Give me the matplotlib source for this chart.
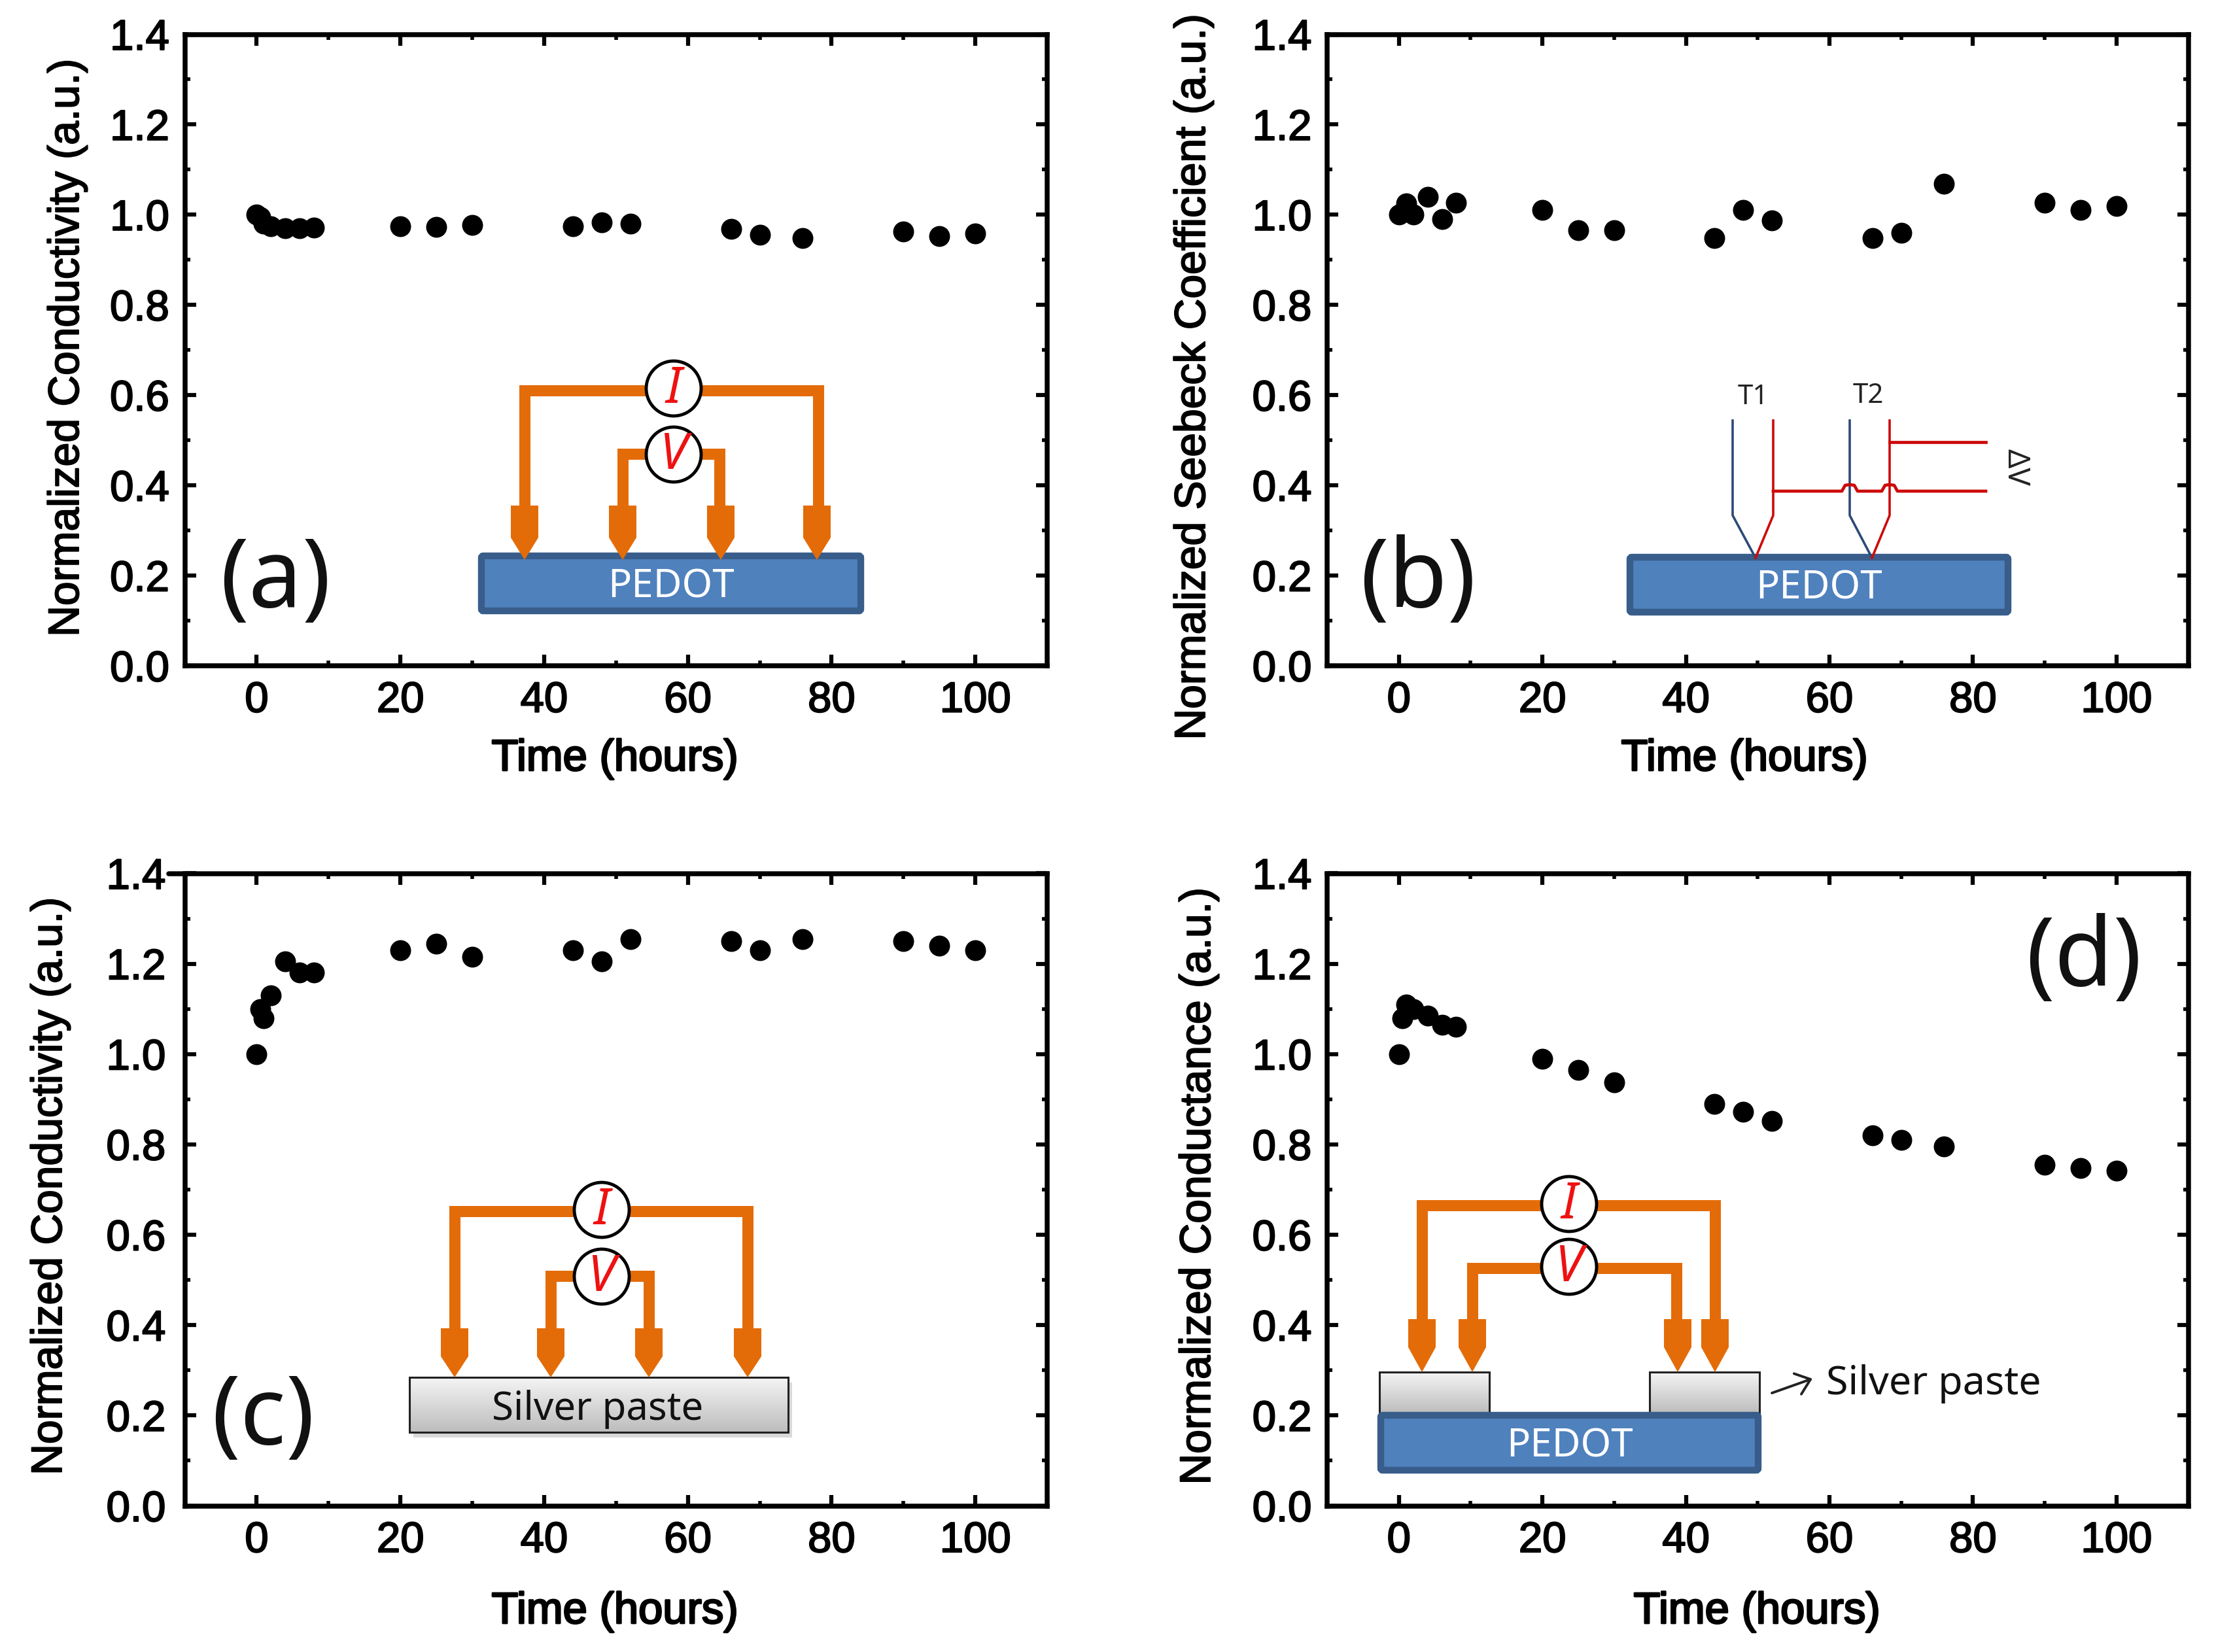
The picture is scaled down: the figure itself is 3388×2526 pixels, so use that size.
import numpy as np
import matplotlib
matplotlib.use("Agg")
import matplotlib.pyplot as plt
from matplotlib.patches import Circle, Rectangle, Polygon, FancyBboxPatch
from matplotlib.ticker import MultipleLocator, FormatStrFormatter
import matplotlib.patheffects as pe

# ------- data -------
time_hours = [0, 0.5, 1, 2, 4, 6, 8, 20, 25, 30, 44, 48, 52, 66, 70, 76, 90, 95, 100]
cond_a = [1.00, 0.995, 0.98, 0.975, 0.97, 0.97, 0.972, 0.975, 0.973, 0.977,
          0.975, 0.983, 0.98, 0.968, 0.955, 0.948, 0.963, 0.952, 0.958]
seebeck_b = [1.00, 1.005, 1.025, 1.00, 1.04, 0.99, 1.027, 1.01, 0.965, 0.965,
             0.948, 1.01, 0.988, 0.948, 0.96, 1.068, 1.027, 1.01, 1.02]
cond_c = [1.00, 1.10, 1.08, 1.13, 1.205, 1.18, 1.18, 1.23, 1.245, 1.215,
          1.23, 1.205, 1.255, 1.25, 1.23, 1.255, 1.25, 1.24, 1.23]
conductance_d = [1.00, 1.08, 1.11, 1.10, 1.085, 1.065, 1.06, 0.99, 0.965, 0.938,
                 0.89, 0.873, 0.852, 0.82, 0.81, 0.795, 0.755, 0.748, 0.742]
ylabels = ["Normalized Conductivity (a.u.)", "Normalized Seebeck Coefficient (a.u.)",
           "Normalized Conductivity (a.u.)", "Normalized Conductance (a.u.)"]
xlabel = "Time (hours)"
panel_tags = ["(a)", "(b)", "(c)", "(d)"]

W, H = 3388, 2526
SANS = "Liberation Sans"
DIAG = "Noto Sans"
ORANGE = "#e36c09"
RED_W = "#cc0a0a"
BLUE_W = "#2c4a78"
fig = plt.figure(figsize=(W / 100, H / 100), dpi=100, facecolor="white")


def fs(px):
    return px * 0.72


def thick(w):
    return [pe.withStroke(linewidth=w, foreground="black")]


boxes = [(282.5, 1601, 52.5, 1018), (2029, 3345.5, 52.5, 1018),
         (282.5, 1601, 1335.5, 2302.5), (2029, 3345.5, 1335.5, 2302.5)]
series = [cond_a, seebeck_b, cond_c, conductance_d]
ytick_pads = [17, 17, 21, 17]
ylab_pos = [(103, 532), (1825, 577), (77, 1814), (1833, 1814)]
xlab_pos = [(940, 1161), (2667, 1161), (940, 2465), (2686, 2465)]

for (l, r, t, b), vals, pad in zip(boxes, series, ytick_pads):
    ax = fig.add_axes([l / W, 1 - b / H, (r - l) / W, (b - t) / H])
    ax.plot(time_hours, vals, ls="none", marker="o", ms=23, color="black", mew=0)
    ax.set_xlim(-10, 110)
    ax.set_ylim(0, 1.4)
    ax.xaxis.set_major_locator(MultipleLocator(20))
    ax.xaxis.set_minor_locator(MultipleLocator(10))
    ax.yaxis.set_major_locator(MultipleLocator(0.2))
    ax.yaxis.set_minor_locator(MultipleLocator(0.1))
    ax.yaxis.set_major_formatter(FormatStrFormatter("%.1f"))
    ax.tick_params(which="major", direction="in", length=12, width=4.5,
                   top=True, right=True, pad=17)
    ax.tick_params(axis="y", which="major", pad=pad)
    ax.tick_params(which="minor", direction="in", length=6, width=4,
                   top=True, right=True)
    for s in ax.spines.values():
        s.set_linewidth(5.4)
    for lab in ax.get_xticklabels() + ax.get_yticklabels():
        lab.set_fontfamily(SANS)
        lab.set_fontsize(47)
        lab.set_path_effects(thick(1.5))

for text, (x, y) in zip(ylabels, ylab_pos):
    fig.text(x / W, 1 - y / H, text, rotation=90, ha="center", va="center",
             family=SANS, fontsize=fs(66), path_effects=thick(1.4))
for (x, y) in xlab_pos:
    fig.text(x / W, 1 - y / H, xlabel, ha="center", va="center",
             family=SANS, fontsize=fs(67), path_effects=thick(2.0))

# overlay in picture pixels for the drawn schematics
ov = fig.add_axes([0, 0, 1, 1], zorder=10)
ov.set_xlim(0, W)
ov.set_ylim(H, 0)
ov.axis("off")
ov.patch.set_alpha(0)


def wire(x0, x1, y, y_end, lw=17):
    ov.plot([x0, x0, x1, x1], [y_end, y, y, y_end], color=ORANGE,
            lw=lw * 0.72, solid_joinstyle="miter", solid_capstyle="butt")


def probe(x, top, shoulder, tip, hw=21):
    ov.add_patch(Polygon([(x - hw, top), (x + hw, top), (x + hw, shoulder), (x, tip),
                          (x - hw, shoulder)], closed=True, fc=ORANGE, ec="none", zorder=3))


def meter(x, y, letter):
    ov.add_patch(Circle((x, y), 42, fc="white", ec="black", lw=3.5, zorder=4))
    ov.text(x, y + 2, letter, color="#ee1111", style="italic", ha="center", va="center",
            family=DIAG, fontsize=fs(76), zorder=5)


def pedot(x0, x1, y0, y1):
    ov.add_patch(FancyBboxPatch((x0 + 5, y0 + 5), x1 - x0 - 10, y1 - y0 - 10,
                                boxstyle="round,pad=0,rounding_size=3", fc="#4f81bd",
                                ec="#385d8a", lw=7.5, zorder=2))
    ov.text((x0 + x1) / 2, (y0 + y1) / 2 + 6, "PEDOT", color="white", ha="center", va="center",
            family=DIAG, fontsize=fs(60), zorder=5)


def silver(x0, x1, y0, y1):
    grad = np.linspace(0, 1, 64).reshape(-1, 1)
    ov.imshow(grad, extent=(x0, x1, y1, y0), cmap=matplotlib.colors.LinearSegmentedColormap.from_list(
        "g", ["#f4f4f4", "#bdbdbd"]), aspect="auto", zorder=1)
    ov.add_patch(Rectangle((x0, y0), x1 - x0, y1 - y0, fc="none", ec="#222222", lw=2.2, zorder=2))
    ov.set_xlim(0, W)
    ov.set_ylim(H, 0)


def tag(x, y, s):
    ov.text(x, y, s, ha="center", va="center", family=DIAG, fontsize=fs(146), color="#111111", zorder=6)


# (a)
pedot(731, 1321, 845, 939)
wire(802, 1251, 597, 785)
wire(952, 1100, 694, 785)
for x in (802, 952, 1102, 1249):
    probe(x, 773, 822, 856)
meter(1030, 594, "I")
meter(1030, 695, "V")
tag(421, 891, panel_tags[0])

# (b)
pedot(2487, 3075, 847, 941)
for x_top, tip, col in [(2649, 2684, BLUE_W), (2711, 2684, RED_W), (2828, 2862, BLUE_W), (2889, 2862, RED_W)]:
    ov.plot([x_top, x_top, tip], [643, 788, 853], color=col, lw=2.6, zorder=3)
ov.plot([2889, 3036], [676, 676], color=RED_W, lw=3.4, zorder=3)
low_x, low_y = [2711], [751]
for cx in (2828, 2889):
    low_x += [cx - 12, cx - 7, cx, cx + 7, cx + 12]
    low_y += [751, 742, 741, 742, 751]
low_x.append(3036)
low_y.append(751)
ov.plot(low_x, low_y, color=RED_W, lw=3.4, zorder=3)
ov.text(2680, 607, "T1", ha="center", va="center", family=DIAG, fontsize=fs(42), color="#222222")
ov.text(2856, 605, "T2", ha="center", va="center", family=DIAG, fontsize=fs(42), color="#222222")
ov.text(3082, 715, "\u0394V", rotation=-90, ha="center", va="center", family=DIAG,
        fontsize=fs(46), color="#222222")
tag(2168, 891, panel_tags[1])

# (c)
ov.plot([258, 283], [1335.5, 1335.5], color="black", lw=5.4, solid_capstyle="round")
ov.add_patch(Rectangle((632, 2114), 579, 84, fc="#d9d9d9", ec="none", zorder=0.5))
silver(626, 1205, 2106, 2190)
wire(695, 1143, 1852, 2040)
wire(842, 992, 1951, 2040)
for x in (695, 842, 992, 1143):
    probe(x, 2031, 2074, 2106)
meter(920, 1850, "I")
meter(920, 1952, "V")
ov.text(914, 2155, "Silver paste", ha="center", va="center", family=DIAG, fontsize=fs(60), color="#111111", zorder=5)
tag(402, 2171, panel_tags[2])

# (d)
silver(2109, 2277, 2098, 2161)
silver(2522, 2690, 2098, 2161)
pedot(2106, 2693, 2159, 2253)
wire(2174, 2622, 1843, 2030)
wire(2251, 2563, 1939, 2030)
for x in (2174, 2251, 2565, 2622):
    probe(x, 2017, 2060, 2098)
meter(2399, 1841, "I")
meter(2399, 1937, "V")
ov.annotate("", xy=(2771, 2108), xytext=(2709, 2130),
            arrowprops=dict(arrowstyle="->,head_length=0.5,head_width=0.4", mutation_scale=30,
                            lw=2.8, color="#222222", shrinkA=0, shrinkB=0))
ov.text(2956, 2116, "Silver paste", ha="center", va="center", family=DIAG, fontsize=fs(61), color="#111111")
tag(3186, 1470, panel_tags[3])

fig.savefig("out.png", dpi=100)
